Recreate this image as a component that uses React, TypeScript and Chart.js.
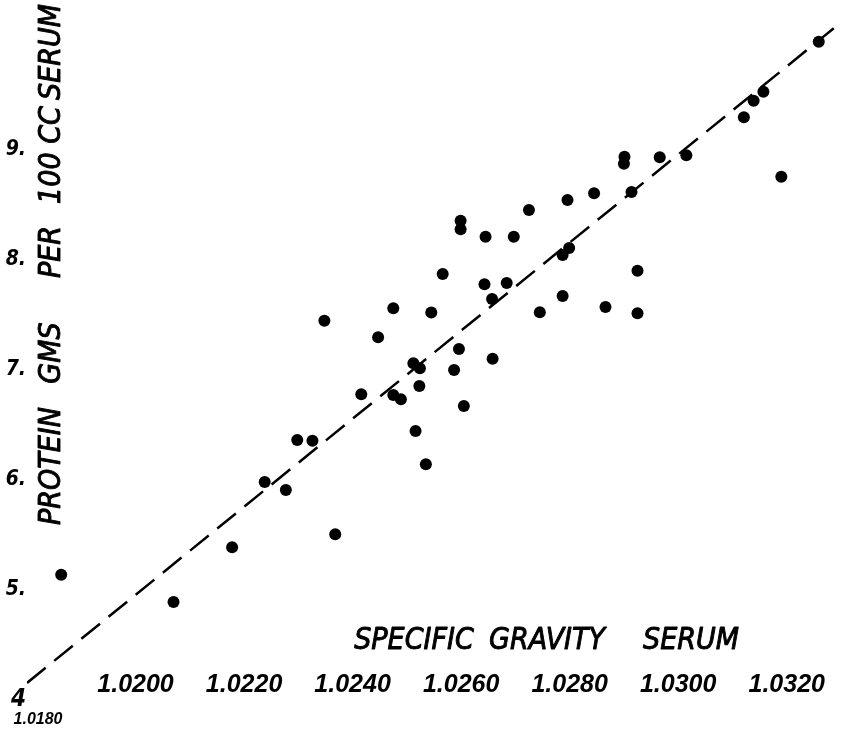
import React, { useEffect, useRef } from 'react';
import { Chart, registerables } from 'chart.js';

Chart.register(...registerables);

// Specific gravity of serum (x) and protein, gms per 100 cc serum (y)
const specificGravity = [
  1.03259, 1.03157, 1.03139, 1.03121, 1.02901, 1.029, 1.02966, 1.03015, 1.0319, 1.02914,
  1.02845, 1.02796, 1.02725, 1.02599, 1.02599, 1.02645, 1.02697, 1.02799, 1.02787, 1.02566,
  1.02925, 1.02643, 1.02684, 1.02657, 1.02787, 1.02545, 1.02745, 1.02866, 1.02925, 1.02475,
  1.02348, 1.02447, 1.02596, 1.02512, 1.02524, 1.02587, 1.02658, 1.02523, 1.02416, 1.02475,
  1.02489, 1.02605, 1.02516, 1.02298, 1.02326, 1.02535, 1.02238, 1.02277, 1.02178, 1.02368,
  1.01863, 1.0207,
];
const protein = [
  9.985, 9.53, 9.448, 9.297, 8.939, 8.875, 8.934, 8.952, 8.757, 8.618,
  8.606, 8.545, 8.455, 8.357, 8.279, 8.212, 8.212, 8.109, 8.045, 7.873,
  7.903, 7.779, 7.791, 7.645, 7.673, 7.523, 7.525, 7.573, 7.515, 7.561,
  7.448, 7.297, 7.191, 7.061, 7.015, 7.0, 7.103, 6.855, 6.779, 6.773,
  6.734, 6.673, 6.445, 6.364, 6.357, 6.143, 5.982, 5.909, 5.388, 5.506,
  5.139, 4.891,
];

// dashed fitted line
const fitLineGravity = [1.018, 1.033];
const fitLineProtein = [4.155, 10.16];

// tick labels
const xTickValues = [1.02, 1.022, 1.024, 1.026, 1.028, 1.03, 1.032];
const xCornerTickValues = [1.018];
const yTickValues = [4, 5, 6, 7, 8, 9];

const xTitleWords = ['SPECIFIC', 'GRAVITY', 'SERUM'];
const yTitleWords = ['PROTEIN', 'GMS', 'PER', '100 CC', 'SERUM'];

const TICK_FAMILY = '"Liberation Sans", Arial, sans-serif';
const Y_TICK_FAMILY = '"DejaVu Sans Condensed", "DejaVu Sans", sans-serif';
const TITLE_FAMILY = '"DejaVu Sans Condensed", "DejaVu Sans", sans-serif';

const zeroPad = (s: any) => {
  s.paddingLeft = 0;
  s.paddingRight = 0;
  s.paddingTop = 0;
  s.paddingBottom = 0;
};

const titlePlugin = {
  id: 'handLetteredTitles',
  afterDraw(chart: any) {
    const { ctx } = chart;
    ctx.save();
    ctx.fillStyle = '#000';
    ctx.strokeStyle = '#000';
    ctx.lineWidth = 0.9;
    ctx.lineJoin = 'round';
    ctx.font = `italic 30px ${TITLE_FAMILY}`;
    ctx.textAlign = 'center';
    ctx.textBaseline = 'middle';
    const xCenters = [414, 547, 691];
    xTitleWords.forEach((w, i) => {
      ctx.fillText(w, xCenters[i], 641);
      ctx.strokeText(w, xCenters[i], 641);
    });
    ctx.translate(52, 0);
    ctx.rotate(-Math.PI / 2);
    const yCenters = [466, 353, 252, 155, 52];
    yTitleWords.forEach((w, i) => {
      ctx.fillText(w, -yCenters[i], 0);
      ctx.strokeText(w, -yCenters[i], 0);
    });
    ctx.restore();
  },
};

export default function App() {
  const canvasRef = useRef<HTMLCanvasElement | null>(null);

  useEffect(() => {
    if (!canvasRef.current) return;
    const chart = new Chart(canvasRef.current, {
      type: 'scatter',
      data: {
        datasets: [
          {
            type: 'scatter',
            data: specificGravity.map((x, i) => ({ x, y: protein[i] })),
            pointRadius: 6,
            pointHoverRadius: 6,
            pointBackgroundColor: '#000',
            pointBorderWidth: 0,
            xAxisID: 'x',
            yAxisID: 'y',
          } as any,
          {
            type: 'line',
            data: fitLineGravity.map((x, i) => ({ x, y: fitLineProtein[i] })),
            borderColor: '#000',
            borderWidth: 2.5,
            borderDash: [24, 11],
            pointRadius: 0,
            fill: false,
            tension: 0,
            xAxisID: 'x',
            yAxisID: 'y',
          } as any,
        ],
      },
      options: {
        animation: false,
        responsive: false,
        events: [],
        layout: { padding: { left: 0, right: 6, top: 7, bottom: 8 } },
        plugins: {
          legend: { display: false },
          tooltip: { enabled: false },
          title: { display: false },
        },
        scales: {
          x: {
            type: 'linear',
            min: 1.018,
            max: 1.033,
            position: { y: 4.3 } as any,
            grid: { display: false, drawTicks: false },
            border: { display: false },
            afterBuildTicks: (s: any) => {
              s.ticks = xTickValues.map((v) => ({ value: v }));
            },
            afterFit: zeroPad,
            ticks: {
              padding: 3,
              color: '#000',
              autoSkip: false,
              maxRotation: 0,
              font: { family: TICK_FAMILY, size: 25, weight: 'bold', style: 'italic' },
              callback: (v: any) => Number(v).toFixed(4),
            },
          },
          x2: {
            type: 'linear',
            axis: 'x',
            min: 1.018,
            max: 1.033,
            position: { y: 3.92 } as any,
            grid: { display: false, drawTicks: false },
            border: { display: false },
            afterBuildTicks: (s: any) => {
              s.ticks = xCornerTickValues.map((v) => ({ value: v }));
            },
            afterFit: zeroPad,
            ticks: {
              padding: 1.5,
              labelOffset: 11,
              color: '#000',
              autoSkip: false,
              maxRotation: 0,
              font: { family: TICK_FAMILY, size: 16, weight: 'bold', style: 'italic' },
              callback: (v: any) => Number(v).toFixed(4),
            },
          } as any,
          y: {
            type: 'linear',
            min: 3.8,
            max: 10.3,
            position: 'left',
            grid: { display: false, drawTicks: false },
            border: { display: false },
            afterBuildTicks: (s: any) => {
              s.ticks = yTickValues.map((v) => ({ value: v }));
            },
            afterFit: (s: any) => {
              s.width = 27;
              zeroPad(s);
            },
            ticks: {
              padding: 1,
              color: '#000',
              autoSkip: false,
              font: (ctx: any) => ({
                family: Y_TICK_FAMILY,
                size: ctx.tick && ctx.tick.value === 4 ? 24 : 21,
                weight: 'bold',
                style: 'italic',
              }),
              callback: (v: any) => (Number(v) === 4 ? '4' : `${v}.`),
            },
          },
        },
      } as any,
      plugins: [titlePlugin],
    });
    return () => chart.destroy();
  }, []);

  return (
    <div style={{ position: 'fixed', left: 0, top: 0, width: 847, height: 730, background: '#fff' }}>
      <canvas ref={canvasRef} width={847} height={730} style={{ display: 'block' }} />
    </div>
  );
}
